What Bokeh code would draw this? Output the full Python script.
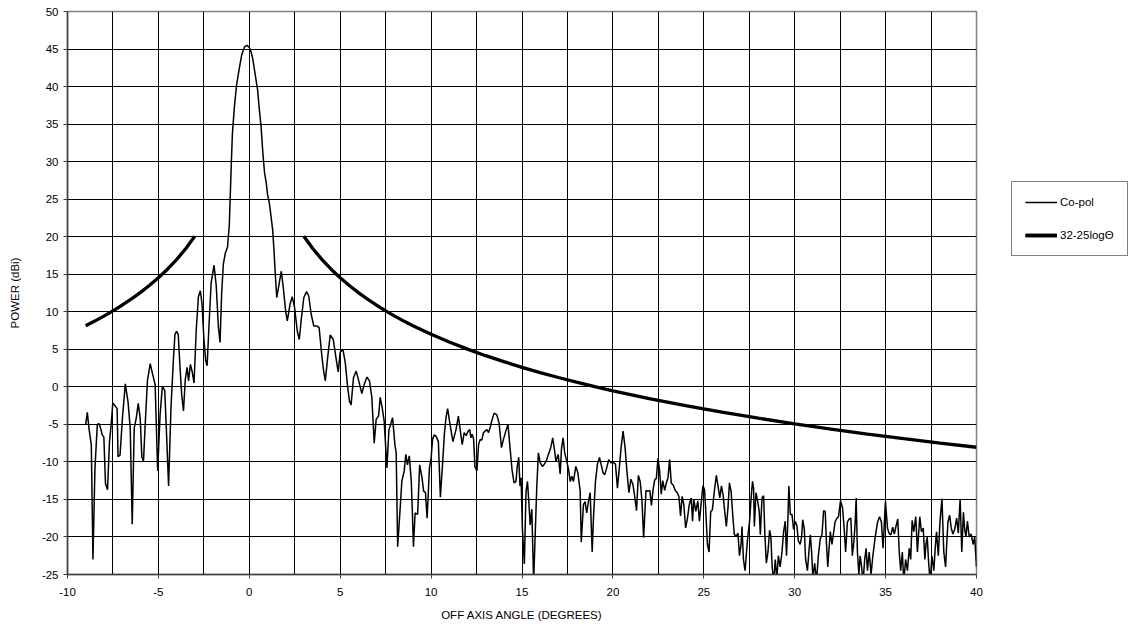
from bokeh.plotting import figure
from bokeh.models import Range1d, FixedTicker, Legend, LegendItem
from bokeh.embed import file_html
from bokeh.resources import INLINE

# ---- data ----
angle = [-9.0,-8.91,-8.82,-8.69,-8.6,-8.49,-8.36,-8.27,-8.18,-8.09,-8.0,-7.91,-7.8,-7.69,-7.6,-7.51,-7.36,-7.27,-7.22,-7.11,
 -6.98,-6.82,-6.67,-6.55,-6.44,-6.33,-6.22,-6.11,-6.0,-5.91,-5.82,-5.71,-5.6,-5.45,-5.31,-5.18,-5.04,-4.91,-4.78,-4.65,
 -4.55,-4.44,-4.31,-4.18,-4.09,-4.0,-3.91,-3.82,-3.72,-3.62,-3.52,-3.42,-3.34,-3.24,-3.14,-3.04,-2.92,-2.8,-2.69,-2.6,
 -2.5,-2.4,-2.32,-2.22,-2.1,-1.94,-1.82,-1.7,-1.61,-1.52,-1.43,-1.32,-1.2,-1.1,-1.0,-0.93,-0.82,-0.7,-0.56,-0.42,
 -0.26,-0.13,0.0,0.1,0.19,0.3,0.46,0.55,0.65,0.75,0.84,0.93,1.0,1.1,1.18,1.29,1.36,1.42,1.51,1.64,
 1.76,1.87,2.0,2.09,2.24,2.36,2.49,2.64,2.75,2.85,3.0,3.15,3.27,3.4,3.55,3.73,3.84,4.0,4.09,4.18,
 4.31,4.45,4.62,4.76,4.89,5.0,5.15,5.28,5.4,5.51,5.6,5.73,5.88,6.0,6.19,6.32,6.47,6.61,6.74,6.87,
 6.98,7.11,7.2,7.31,7.42,7.57,7.68,7.75,7.88,8.01,8.08,8.16,8.3,8.39,8.52,8.61,8.7,8.8,8.91,8.96,
 9.03,9.12,9.26,9.37,9.5,9.59,9.69,9.78,9.91,10.0,10.08,10.17,10.28,10.4,10.51,10.64,10.73,10.82,10.91,11.04,
 11.2,11.37,11.5,11.6,11.71,11.82,11.93,12.04,12.13,12.19,12.26,12.34,12.41,12.52,12.61,12.7,12.79,12.88,12.97,13.07,
 13.16,13.25,13.34,13.47,13.61,13.74,13.87,13.98,14.11,14.23,14.34,14.45,14.56,14.67,14.74,14.82,14.89,14.95,15.02,15.13,
 15.22,15.3,15.38,15.45,15.54,15.64,15.72,15.81,15.9,16.0,16.12,16.23,16.33,16.45,16.58,16.69,16.78,16.87,16.99,17.1,
 17.17,17.26,17.35,17.46,17.56,17.65,17.74,17.83,17.96,18.07,18.2,18.26,18.38,18.47,18.56,18.66,18.75,18.86,18.93,19.04,
 19.15,19.26,19.35,19.45,19.55,19.66,19.77,19.88,20.03,20.14,20.25,20.36,20.45,20.56,20.67,20.77,20.88,20.99,21.1,21.2,
 21.3,21.4,21.5,21.6,21.69,21.82,21.93,22.03,22.12,22.21,22.3,22.39,22.48,22.57,22.66,22.74,22.85,22.94,23.03,23.12,
 23.21,23.32,23.43,23.54,23.63,23.72,23.81,23.9,24.0,24.09,24.2,24.31,24.38,24.45,24.56,24.67,24.76,24.85,24.95,25.04,
 25.11,25.2,25.29,25.38,25.47,25.58,25.69,25.78,25.88,25.97,26.06,26.15,26.24,26.33,26.41,26.5,26.59,26.68,26.79,26.88,
 26.96,27.05,27.1,27.18,27.27,27.35,27.41,27.52,27.59,27.68,27.74,27.78,27.87,27.96,28.05,28.11,28.2,28.29,28.36,28.44,
 28.53,28.62,28.69,28.76,28.85,28.93,29.02,29.1,29.2,29.3,29.39,29.48,29.55,29.62,29.68,29.76,29.85,29.94,30.03,30.12,
 30.2,30.3,30.38,30.44,30.53,30.6,30.7,30.78,30.86,30.93,31.0,31.1,31.2,31.3,31.41,31.5,31.59,31.68,31.75,31.82,
 31.89,31.96,32.05,32.13,32.22,32.32,32.41,32.52,32.63,32.72,32.8,32.9,33.0,33.09,33.17,33.26,33.33,33.38,33.45,33.53,
 33.6,33.68,33.76,33.85,33.93,34.0,34.1,34.2,34.3,34.43,34.56,34.67,34.77,34.86,34.99,35.11,35.21,35.3,35.39,35.48,
 35.58,35.67,35.75,35.83,35.92,36.0,36.1,36.2,36.3,36.38,36.46,36.55,36.66,36.75,36.88,36.97,37.07,37.16,37.22,37.29,
 37.37,37.45,37.55,37.65,37.73,37.8,37.9,37.99,38.1,38.2,38.3,38.36,38.43,38.52,38.61,38.7,38.8,38.91,39.0,39.1,
 39.19,39.28,39.35,39.42,39.5,39.6,39.7,39.82,39.9,40.0]

copol = [-5.0,-3.4,-5.5,-7.8,-23.0,-10.9,-5.0,-4.9,-5.5,-6.4,-6.7,-12.9,-13.7,-7.3,-5.1,-2.2,-2.6,-2.9,-9.3,-9.1,
 -4.2,0.4,-2.0,-5.5,-18.3,-5.5,-4.2,-2.2,-4.2,-9.3,-9.9,-4.2,0.9,3.1,1.6,0.3,-11.2,-3.8,0.1,-0.5,
 -6.4,-13.2,-2.9,3.4,7.0,7.4,7.0,3.0,-1.0,-3.2,1.0,2.6,0.8,3.0,2.0,0.5,7.5,12.0,12.8,11.0,
 6.5,3.5,2.8,8.0,13.8,16.2,13.5,8.0,5.9,12.5,16.3,17.8,18.6,21.5,29.0,33.7,37.3,40.2,42.3,44.2,
 45.3,45.5,45.2,44.6,43.7,42.0,39.5,37.0,34.6,31.0,28.5,27.2,25.7,24.5,23.0,20.8,18.1,15.4,11.9,13.7,
 15.4,13.2,10.1,8.8,11.0,12.0,10.6,7.4,6.3,8.8,11.9,12.7,12.1,9.7,8.1,8.1,7.9,3.9,2.1,0.8,
 3.9,6.9,6.3,4.0,2.0,4.6,5.0,3.2,0.2,-1.9,-2.4,1.2,2.1,1.0,-0.9,0.3,1.3,0.8,-1.4,-7.5,
 -4.3,-3.9,-1.4,-2.8,-4.6,-10.8,-5.7,-5.2,-4.1,-7.7,-8.8,-21.3,-16.1,-12.6,-11.2,-9.0,-10.4,-9.2,-12.6,-16.0,
 -21.3,-16.8,-17.0,-10.4,-12.1,-13.9,-14.1,-17.5,-10.8,-9.5,-7.0,-6.4,-6.6,-7.3,-14.7,-9.9,-6.3,-4.1,-2.9,-5.0,
 -7.3,-5.7,-3.9,-5.7,-7.7,-6.1,-6.5,-5.9,-5.7,-6.8,-6.3,-7.0,-10.6,-11.2,-7.7,-7.0,-7.1,-6.1,-5.9,-5.7,
 -6.1,-5.4,-4.5,-3.5,-3.7,-4.8,-8.1,-7.0,-5.9,-5.0,-8.1,-11.0,-12.8,-12.6,-10.6,-9.4,-13.2,-12.1,-18.8,-23.6,
 -14.0,-12.6,-15.5,-18.4,-16.3,-26.0,-20.1,-13.5,-8.8,-10.1,-10.6,-10.3,-9.9,-9.0,-8.1,-6.8,-8.3,-9.9,-9.0,-11.6,
 -8.3,-6.8,-8.8,-9.9,-11.0,-12.6,-11.9,-12.6,-10.6,-11.4,-13.9,-20.7,-15.7,-15.3,-16.8,-15.2,-14.1,-22.0,-17.5,-12.6,
 -10.3,-9.4,-10.3,-11.4,-11.7,-10.8,-9.7,-10.1,-10.1,-10.3,-13.5,-10.6,-8.1,-5.9,-8.1,-11.2,-14.1,-12.3,-13.0,-14.6,
 -16.5,-11.8,-12.6,-15.2,-20.1,-13.8,-13.9,-13.8,-15.8,-13.7,-12.4,-12.2,-9.5,-11.2,-14.3,-12.5,-13.8,-12.8,-12.1,-9.7,
 -12.8,-13.1,-13.8,-14.1,-14.6,-17.2,-14.6,-15.7,-18.8,-17.7,-15.7,-14.8,-17.9,-15.0,-16.6,-15.2,-17.9,-15.7,-13.2,-13.7,
 -16.6,-21.0,-22.0,-16.6,-16.4,-13.9,-11.8,-13.2,-14.8,-13.2,-14.4,-16.6,-18.6,-16.1,-12.8,-13.9,-17.0,-19.7,-19.9,-19.5,
 -22.5,-21.0,-18.6,-23.0,-24.5,-22.0,-20.2,-17.9,-15.2,-12.6,-13.5,-18.6,-14.1,-15.2,-16.6,-19.7,-14.8,-14.5,-19.7,-23.5,
 -22.0,-19.1,-20.0,-24.0,-26.0,-23.0,-25.5,-22.5,-24.0,-22.0,-19.3,-17.9,-22.5,-18.0,-13.2,-17.0,-17.0,-19.0,-17.9,-18.5,
 -20.5,-21.0,-20.0,-17.7,-19.0,-23.0,-24.5,-22.0,-19.7,-22.0,-25.5,-23.5,-26.0,-22.5,-20.2,-19.7,-16.5,-16.6,-21.0,-24.0,
 -21.5,-19.3,-21.0,-19.6,-18.0,-17.5,-17.3,-15.2,-16.1,-18.8,-22.0,-18.0,-17.6,-17.5,-22.5,-20.5,-18.0,-14.8,-22.0,-25.0,
 -22.5,-24.0,-26.0,-23.0,-21.5,-24.5,-22.0,-25.0,-22.5,-20.0,-18.0,-17.3,-18.0,-21.5,-15.3,-18.9,-19.6,-19.7,-18.7,-19.6,
 -18.5,-17.6,-22.0,-24.5,-22.0,-26.0,-23.0,-24.5,-21.5,-23.0,-17.8,-19.3,-17.3,-22.0,-17.3,-19.3,-18.8,-23.0,-21.0,-20.0,
 -23.5,-26.0,-22.5,-24.5,-21.5,-19.3,-22.5,-18.0,-14.9,-22.0,-24.0,-21.0,-18.0,-17.1,-18.8,-19.6,-19.0,-17.5,-19.5,-14.9,
 -22.0,-16.7,-19.0,-20.0,-17.9,-20.0,-19.6,-21.0,-20.0,-24.0]

# 32-25log(theta) envelope, values listed
mask_left_x = [-9, -8.5, -8, -7.5, -7, -6.5, -6, -5.5, -5, -4.5, -4, -3.5, -3]
mask_left_y = [8.14, 8.76, 9.42, 10.12, 10.87, 11.68, 12.55, 13.49, 14.53, 15.67, 16.95, 18.40, 20.07]
mask_right_x = [3, 3.5, 4, 4.5, 5, 5.5, 6, 6.5, 7, 7.5, 8, 8.5, 9, 10, 11, 12, 13, 14, 15, 16, 17, 18,
                19, 20, 22, 24, 26, 28, 30, 32, 34, 36, 38, 40]
mask_right_y = [20.07, 18.40, 16.95, 15.67, 14.53, 13.49, 12.55, 11.68, 10.87, 10.12, 9.42, 8.76, 8.14,
                7.00, 5.97, 5.02, 4.15, 3.35, 2.60, 1.90, 1.24, 0.62, 0.03, -0.53, -1.56, -2.51, -3.37,
                -4.18, -4.93, -5.63, -6.29, -6.91, -7.49, -8.05]

x_major = [-10, -5, 0, 5, 10, 15, 20, 25, 30, 35, 40]
x_minor = [-7.5, -2.5, 2.5, 7.5, 12.5, 17.5, 22.5, 27.5, 32.5, 37.5]
y_major = [-25, -20, -15, -10, -5, 0, 5, 10, 15, 20, 25, 30, 35, 40, 45, 50]

FONT = "Liberation Sans"
FS = "11.5px"

p = figure(frame_width=909, frame_height=563,
           min_border_left=67, min_border_top=11, min_border_right=150, min_border_bottom=52,
           x_range=Range1d(-10, 40), y_range=Range1d(-25, 50),
           output_backend="svg", toolbar_location=None,
           background_fill_color="white", border_fill_color="white")

p.outline_line_color = "#808080"
p.outline_line_width = 1.5

p.xaxis.ticker = FixedTicker(ticks=x_major, minor_ticks=x_minor)
p.yaxis.ticker = FixedTicker(ticks=y_major)
p.xaxis.major_label_overrides = {t: str(t) for t in x_major}
p.yaxis.major_label_overrides = {t: str(t) for t in y_major}
p.xgrid.grid_line_color = "black"
p.xgrid.grid_line_width = 1
p.xgrid.minor_grid_line_color = "black"
p.xgrid.minor_grid_line_width = 1
p.ygrid.grid_line_color = "black"
p.ygrid.grid_line_width = 1

for ax in (p.xaxis[0], p.yaxis[0]):
    ax.axis_line_color = "#404040"
    ax.axis_line_width = 1.5
    ax.major_tick_line_color = "#404040"
    ax.major_tick_in = 0
    ax.major_tick_out = 4
    ax.minor_tick_line_color = None
    ax.major_label_text_font = FONT
    ax.major_label_text_font_size = FS
    ax.major_label_text_color = "black"
    ax.axis_label_text_font = FONT
    ax.axis_label_text_font_size = FS
    ax.axis_label_text_font_style = "normal"
    ax.axis_label_text_color = "black"

p.xaxis.axis_label = "OFF AXIS ANGLE (DEGREES)"
p.yaxis.axis_label = "POWER (dBi)"
p.xaxis.major_label_standoff = 9
p.xaxis.axis_label_standoff = 10
p.yaxis.major_label_standoff = 5
p.yaxis.axis_label_standoff = 18

r_co = p.line(angle, copol, line_color="black", line_width=1.5)
r_m1 = p.line(mask_left_x, mask_left_y, line_color="black", line_width=3.3)
r_m2 = p.line(mask_right_x, mask_right_y, line_color="black", line_width=3.3)

legend = Legend(items=[LegendItem(label="Co-pol", renderers=[r_co]),
                       LegendItem(label="32-25logΘ", renderers=[r_m1, r_m2])],
                location=(35, 318))
legend.border_line_color = "black"
legend.border_line_width = 1
legend.background_fill_color = "white"
legend.background_fill_alpha = 1
legend.label_text_font = FONT
legend.label_text_font_size = FS
legend.label_text_color = "black"
legend.glyph_width = 32
legend.glyph_height = 14
legend.label_height = 14
legend.label_standoff = 3
legend.spacing = 19
legend.padding = 13
legend.margin = 0
p.add_layout(legend, "right")

open("out.html", "w").write(file_html(p, INLINE))
